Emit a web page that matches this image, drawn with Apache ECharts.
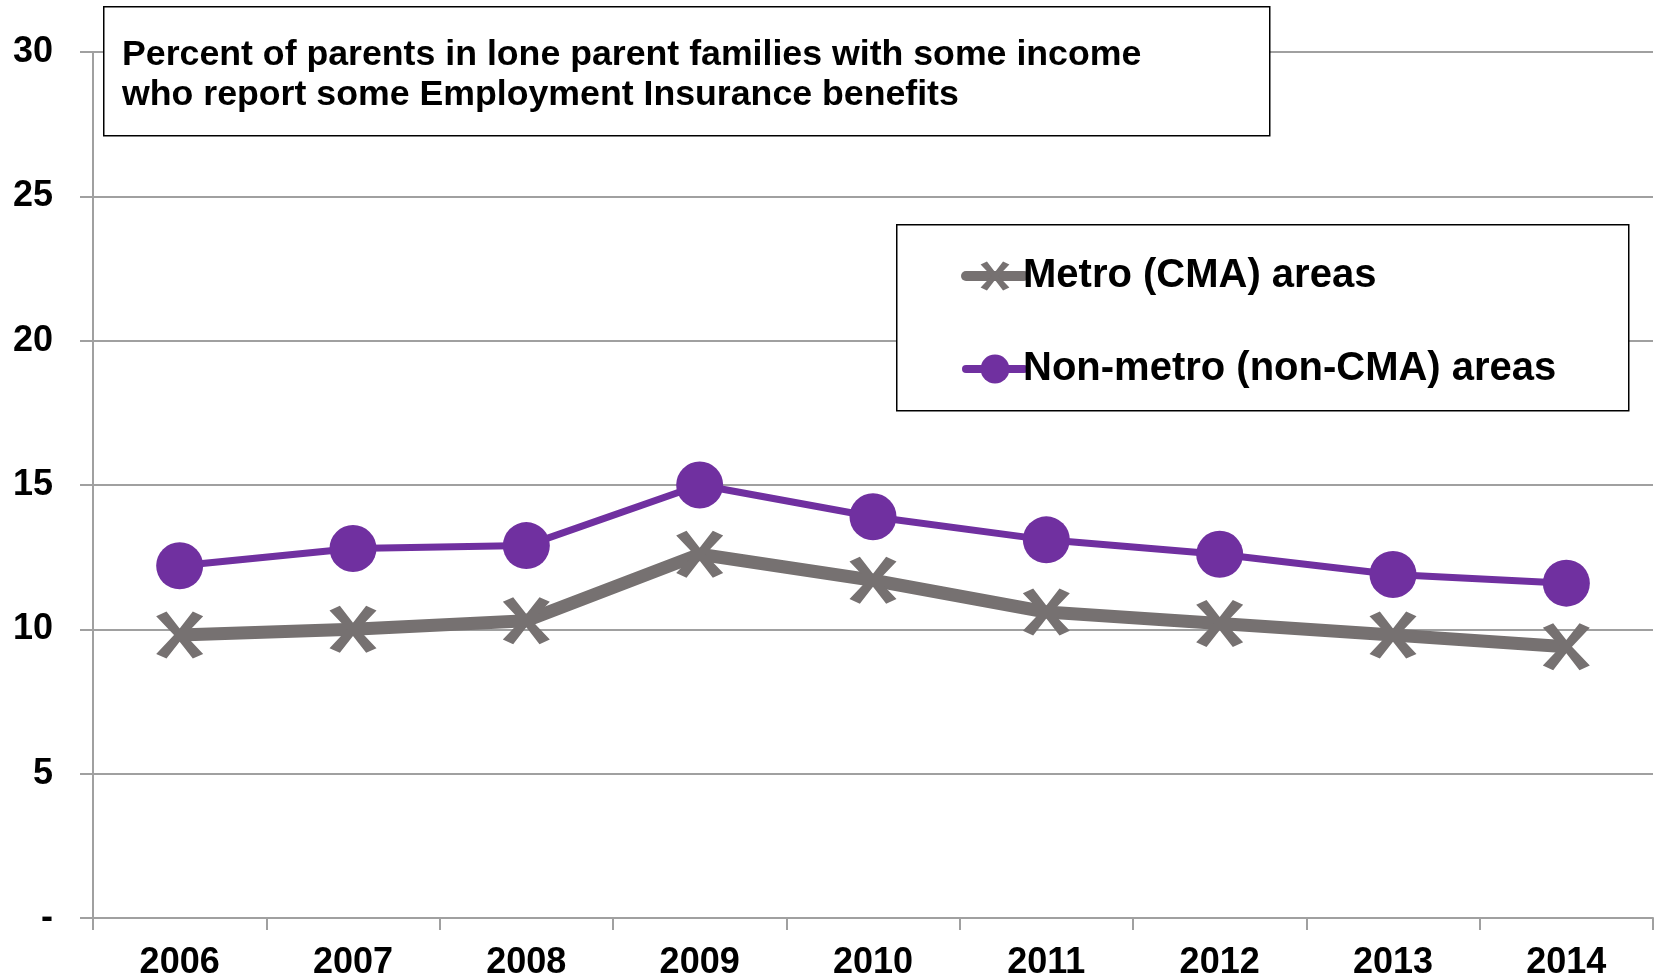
<!DOCTYPE html>
<html>
<head>
<meta charset="utf-8">
<script src="https://cdn.jsdelivr.net/npm/echarts@6/dist/echarts.min.js"></script>
<style>
  html, body { margin: 0; padding: 0; background: #fff; }
  #chart { width: 1659px; height: 978px; }
</style>
</head>
<body>
<div id="chart"></div>
<script>
var years = ['2006', '2007', '2008', '2009', '2010', '2011', '2012', '2013', '2014'];
var metro = [9.8, 10.0, 10.3, 12.6, 11.7, 10.6, 10.2, 9.8, 9.4];
var nonMetro = [12.2, 12.8, 12.9, 15.0, 13.9, 13.1, 12.6, 11.9, 11.6];
var yTicks = { 0: '-', 5: '5', 10: '10', 15: '15', 20: '20', 25: '25', 30: '30' };

var font = '"Liberation Sans", Arial, sans-serif';
// X shape for the metro markers
var crossPath = 'path://M22,0 L50,36 L78,0 L100,10 L62,50 L100,90 L78,100 L50,64 L22,100 L0,90 L38,50 L0,10 Z';

var chart = echarts.init(document.getElementById('chart'));
var option = {
  animation: false,
  grid: { left: 93, right: 6, top: 52, bottom: 60, containLabel: false, outerBoundsMode: 'none' },
  title: {
    text: 'Percent of parents in lone parent families with some income\nwho report some Employment Insurance benefits',
    left: 117,
    top: 30,
    textStyle: { fontFamily: font, fontWeight: 'bold', fontSize: 35.7, lineHeight: 40, color: '#000' }
  },
  graphic: [
    { type: 'rect', left: 103, top: 6, shape: { width: 1166, height: 129 },
      style: { fill: '#fff', stroke: '#000', lineWidth: 1.5 }, z: 5 },
    { type: 'rect', left: 896, top: 224, shape: { width: 732, height: 186 },
      style: { fill: '#fff', stroke: '#000', lineWidth: 1.5 }, z: 5 }
  ],
  legend: {
    orient: 'vertical',
    left: 956,
    top: 250,
    itemGap: 51,
    itemWidth: 58,
    itemHeight: 36,
    z: 10,
    textStyle: { fontFamily: font, fontWeight: 'bold', fontSize: 40, lineHeight: 42, color: '#000', padding: [0, 0, 0, -6] },
    data: [
      { name: 'Metro (CMA) areas', lineStyle: { width: 10, cap: 'round' } },
      { name: 'Non-metro (non-CMA) areas', lineStyle: { width: 8, cap: 'round' } }
    ]
  },
  xAxis: {
    type: 'category',
    data: years,
    boundaryGap: true,
    axisLine: { lineStyle: { color: '#A0A0A0', width: 2 } },
    axisTick: { show: true, length: 12, lineStyle: { color: '#A0A0A0', width: 2 } },
    axisLabel: { fontFamily: font, fontWeight: 'bold', fontSize: 36, color: '#000', margin: 27 }
  },
  yAxis: {
    type: 'value',
    min: 0,
    max: 30,
    interval: 5,
    axisLine: { show: true, lineStyle: { color: '#A0A0A0', width: 2 } },
    axisTick: { show: true, length: 13, lineStyle: { color: '#A0A0A0', width: 2 } },
    splitLine: { lineStyle: { color: '#A0A0A0', width: 2 } },
    axisLabel: {
      fontFamily: font, fontWeight: 'bold', fontSize: 36, color: '#000', margin: 40,
      formatter: function (v) { return yTicks[v]; }
    }
  },
  series: [
    {
      name: 'Metro (CMA) areas',
      type: 'line',
      data: metro,
      symbol: crossPath,
      symbolSize: 47,
      lineStyle: { color: '#767171', width: 13 },
      itemStyle: { color: '#767171' },
      z: 3
    },
    {
      name: 'Non-metro (non-CMA) areas',
      type: 'line',
      data: nonMetro,
      symbol: 'circle',
      symbolSize: 47,
      lineStyle: { color: '#7030A0', width: 7 },
      itemStyle: { color: '#7030A0' },
      z: 3
    }
  ]
};
chart.setOption(option);
</script>
</body>
</html>
